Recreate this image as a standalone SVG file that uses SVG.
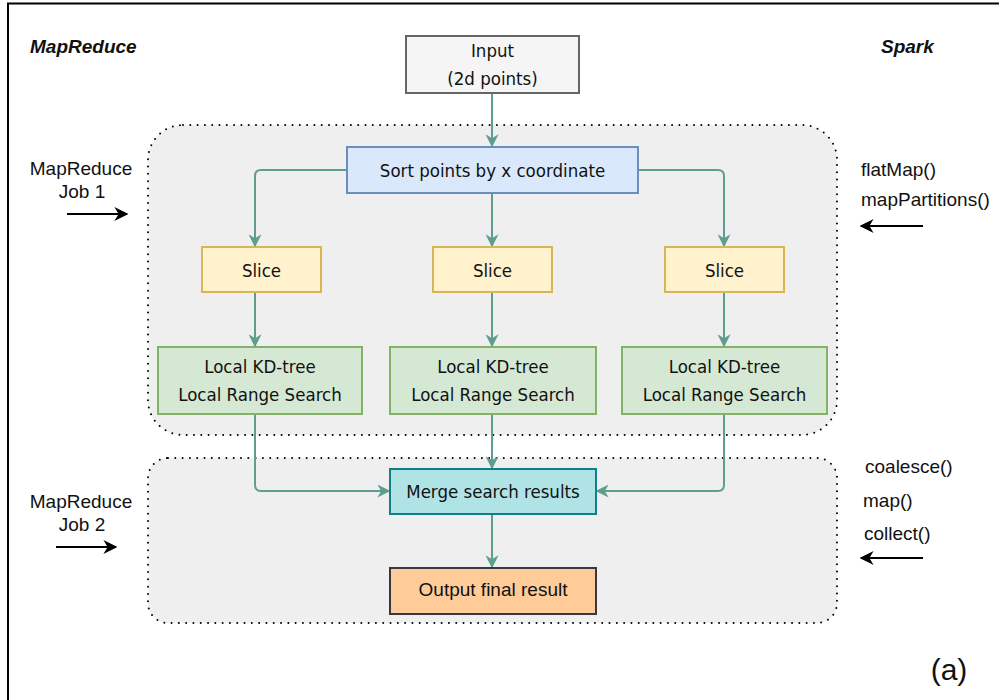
<svg xmlns="http://www.w3.org/2000/svg" width="999" height="700" viewBox="0 0 999 700">
  <defs>
    <marker id="tealHead" viewBox="0 0 10 10" refX="9" refY="5" markerWidth="6.5" markerHeight="6.5" markerUnits="strokeWidth" orient="auto">
      <path d="M0,0 L10,5 L0,10 L3,5 z" fill="#5e9d8f"/>
    </marker>
    <marker id="blackHead" viewBox="0 0 10 10" refX="9" refY="5" markerWidth="7" markerHeight="7" markerUnits="strokeWidth" orient="auto">
      <path d="M0,0 L10,5 L0,10 L3,5 z" fill="#000"/>
    </marker>
  </defs>
  <style>
    .frame { fill: none; stroke: #000; stroke-width: 2; }
    .zone { fill: #efefef; stroke: #000; stroke-width: 2; stroke-dasharray: 0 7.3; stroke-linecap: round; }
    .box { stroke-width: 2; }
    .lbl { font-family: "DejaVu Sans Condensed", "DejaVu Sans", sans-serif; font-stretch: semi-condensed; font-size: 18.5px; fill: #111; text-anchor: middle; }
    .side { font-family: "Liberation Sans", Arial, sans-serif; font-size: 19px; fill: #111; }
    .tag { font-family: "Liberation Sans", Arial, sans-serif; font-size: 30px; fill: #111; text-anchor: middle; }
    .title { font-family: "Liberation Sans", Arial, sans-serif; font-size: 19px; font-weight: bold; font-style: italic; fill: #111; }
    .edge { fill: none; stroke: #5e9d8f; stroke-width: 2; marker-end: url(#tealHead); }
    .pointer { fill: none; stroke: #000; stroke-width: 2; marker-end: url(#blackHead); }
  </style>

  <rect width="999" height="700" fill="#fff"/>
  <!-- outer frame: top and left edges -->
  <path class="frame" d="M8,700 V3.5 H999"/>

  <!-- dotted zones for the two jobs -->
  <g id="job1-zone">
    <rect class="zone" x="148" y="125" width="689" height="310" rx="35" ry="35"/>
  </g>
  <g id="job2-zone">
    <rect class="zone" x="148" y="458" width="689" height="165" rx="20" ry="20"/>
  </g>

  <!-- headings -->
  <text class="title" x="30" y="53">MapReduce</text>
  <text class="title" x="881" y="53">Spark</text>

  <!-- left annotations -->
  <g id="mr-job1">
    <text class="side" x="81" y="175" text-anchor="middle">MapReduce</text>
    <text class="side" x="82" y="198" text-anchor="middle">Job 1</text>
    <line class="pointer" x1="67" y1="214" x2="127" y2="214"/>
  </g>
  <g id="mr-job2">
    <text class="side" x="81" y="508" text-anchor="middle">MapReduce</text>
    <text class="side" x="82" y="531" text-anchor="middle">Job 2</text>
    <line class="pointer" x1="56" y1="547" x2="116" y2="547"/>
  </g>

  <!-- right annotations -->
  <g id="spark-job1">
    <text class="side" x="861" y="176">flatMap()</text>
    <text class="side" x="861" y="206">mapPartitions()</text>
    <line class="pointer" x1="923" y1="226" x2="861" y2="226"/>
  </g>
  <g id="spark-job2">
    <text class="side" x="865" y="473">coalesce()</text>
    <text class="side" x="863" y="507">map()</text>
    <text class="side" x="864" y="540">collect()</text>
    <line class="pointer" x1="923" y1="558" x2="861" y2="558"/>
  </g>

  <!-- connectors -->
  <g id="connectors">
    <path class="edge" d="M492,93 V146"/>
    <path class="edge" d="M347,170 H261 Q255,170 255,176 V246"/>
    <path class="edge" d="M492,193 V246"/>
    <path class="edge" d="M638,170 H718 Q724,170 724,176 V246"/>
    <path class="edge" d="M255,292 V346"/>
    <path class="edge" d="M492,292 V346"/>
    <path class="edge" d="M724,292 V346"/>
    <path class="edge" d="M255,414 V485 Q255,491 261,491 H389"/>
    <path class="edge" d="M492,414 V468"/>
    <path class="edge" d="M724,414 V485 Q724,491 718,491 H597"/>
    <path class="edge" d="M492,514 V567"/>
  </g>

  <!-- nodes -->
  <g id="input">
    <rect class="box" x="406" y="36" width="173" height="57" fill="#f5f5f5" stroke="#666"/>
    <text class="lbl" x="492.5" y="57">Input</text>
    <text class="lbl" x="492.5" y="85">(2d points)</text>
  </g>
  <g id="sort">
    <rect class="box" x="347" y="147" width="291" height="46" fill="#dae8fc" stroke="#6c8ebf"/>
    <text class="lbl" x="492.5" y="177">Sort points by x coordinate</text>
  </g>
  <g id="slice-1">
    <rect class="box" x="202" y="247" width="119" height="45" fill="#fff2cc" stroke="#d6b656"/>
    <text class="lbl" x="261.5" y="277">Slice</text>
  </g>
  <g id="slice-2">
    <rect class="box" x="433" y="247" width="119" height="45" fill="#fff2cc" stroke="#d6b656"/>
    <text class="lbl" x="492.5" y="277">Slice</text>
  </g>
  <g id="slice-3">
    <rect class="box" x="665" y="247" width="119" height="45" fill="#fff2cc" stroke="#d6b656"/>
    <text class="lbl" x="724.5" y="277">Slice</text>
  </g>
  <g id="kd-1">
    <rect class="box" x="158" y="347" width="204" height="67" fill="#d5e8d4" stroke="#82b366"/>
    <text class="lbl" x="260" y="373">Local KD-tree</text>
    <text class="lbl" x="260" y="401">Local Range Search</text>
  </g>
  <g id="kd-2">
    <rect class="box" x="390" y="347" width="206" height="67" fill="#d5e8d4" stroke="#82b366"/>
    <text class="lbl" x="493" y="373">Local KD-tree</text>
    <text class="lbl" x="493" y="401">Local Range Search</text>
  </g>
  <g id="kd-3">
    <rect class="box" x="622" y="347" width="205" height="67" fill="#d5e8d4" stroke="#82b366"/>
    <text class="lbl" x="724.5" y="373">Local KD-tree</text>
    <text class="lbl" x="724.5" y="401">Local Range Search</text>
  </g>
  <g id="merge">
    <rect class="box" x="390" y="469" width="206" height="45" fill="#b0e3e6" stroke="#0e8088"/>
    <text class="lbl" x="493" y="498">Merge search results</text>
  </g>
  <g id="output">
    <rect class="box" x="390" y="568" width="206" height="46" fill="#ffcc99" stroke="#36393d"/>
    <text class="side" x="493" y="596" text-anchor="middle">Output final result</text>
  </g>

  <!-- panel tag -->
  <text class="tag" x="949" y="680">(a)</text>
</svg>
